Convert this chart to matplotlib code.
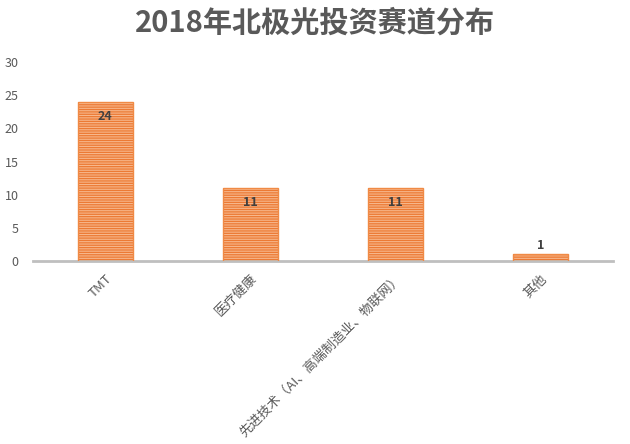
import matplotlib
matplotlib.use("Agg")
import matplotlib.pyplot as plt

plt.rcParams['font.family'] = ['Noto Sans CJK SC', 'DejaVu Sans']

categories = ["TMT", "医疗健康", "先进技术（AI、高端制造业、物联网）", "其他"]
values = [24, 11, 11, 1]
yticks = [0, 5, 10, 15, 20, 25, 30]
title = "2018年北极光投资赛道分布"

fig = plt.figure(figsize=(6.3, 4.44), dpi=100)
ax = fig.add_axes([0.052, 0.412, 0.921, 0.448])

x = list(range(len(categories)))
orange = "#EC7A34"
plt.rcParams['hatch.linewidth'] = 0.8
ax.bar(x, values, width=0.38, color=orange, edgecolor="#F7B78C", hatch="-------", linewidth=0, zorder=2)
ax.bar(x, values, width=0.38, fill=False, edgecolor="#F08A45", linewidth=1.0, zorder=3)

for xi, v in zip(x, values):
    if v > 3:
        ax.text(xi, v - 2.2, str(v), ha="center", va="center", fontsize=9,
                fontweight="bold", color="#404040", zorder=4)
    else:
        ax.text(xi, v + 1.3, str(v), ha="center", va="center", fontsize=9,
                fontweight="bold", color="#404040", zorder=4)

ax.set_xlim(-0.5, len(categories) - 0.5)
ax.set_ylim(0, 30)
ax.set_yticks(yticks)
ax.set_yticklabels([str(t) for t in yticks])
ax.set_xticks(x)
ax.set_xticklabels(categories, rotation=45, ha="right", rotation_mode="anchor")
ax.tick_params(axis="both", length=0, labelsize=9, colors="#595959")
ax.tick_params(axis="x", pad=8, labelsize=9.5)
ax.tick_params(axis="y", pad=10)

for s in ["top", "right", "left"]:
    ax.spines[s].set_visible(False)
ax.spines["bottom"].set_color("#BFBFBF")
ax.spines["bottom"].set_linewidth(2)

fig.text(0.5, 0.95, title, ha="center", va="center", fontsize=21,
         fontweight="bold", color="#595959")

fig.savefig("out.png", dpi=100)
